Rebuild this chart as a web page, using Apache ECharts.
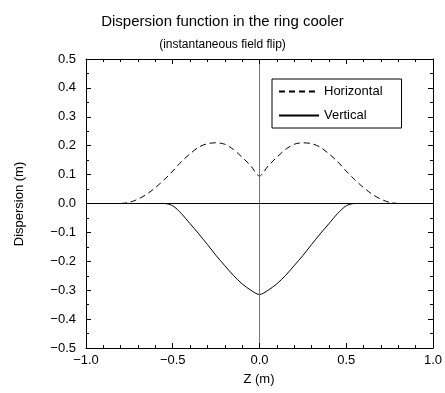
<!DOCTYPE html>
<html><head><meta charset="utf-8">
<script src="https://cdn.jsdelivr.net/npm/echarts@6/dist/echarts.min.js"></script>
<style>html,body{margin:0;padding:0;background:#fff}#c{width:445px;height:393px}</style>
</head><body><div id="c"></div>
<script>
const zValues = [-0.8,-0.75,-0.7,-0.65,-0.6,-0.55,-0.5,-0.45,-0.4,-0.35,-0.3,-0.25,-0.2,-0.15,-0.1,-0.05,0,
  0.05,0.1,0.15,0.2,0.25,0.3,0.35,0.4,0.45,0.5,0.55,0.6,0.65,0.7,0.75,0.8];
const horizontal = [0,0.004,0.015,0.032,0.055,0.082,0.112,0.145,0.172,0.195,0.207,0.21,0.205,0.187,0.16,0.13,0.095,
  0.13,0.16,0.187,0.205,0.21,0.207,0.195,0.172,0.145,0.112,0.082,0.055,0.032,0.015,0.004,0];
const vertical = [0,0,0,0,0,0,-0.008,-0.035,-0.07,-0.105,-0.142,-0.18,-0.215,-0.249,-0.278,-0.3,-0.315,
  -0.3,-0.278,-0.249,-0.215,-0.18,-0.142,-0.105,-0.07,-0.035,-0.008,0,0,0,0,0,0];
const titleText = 'Dispersion function in the ring cooler';
const subtitleText = '(instantaneous field flip)';
const xName = 'Z (m)';
const yName = 'Dispersion (m)';

const FONT = 'Liberation Sans, Arial, sans-serif';
const fmt = v => { const s = (Math.round(v*10)/10).toFixed(1); return s.replace('-', '\u2212'); };
const chart = echarts.init(document.getElementById('c'));
function xAx(pos, show) {
  return {
    type:'value', position:pos, min:-1, max:1, interval:0.5, z:10,
    axisLine:{show:true, onZero:false, lineStyle:{color:'#000'}},
    axisTick:{show:true, inside:true, length:5, lineStyle:{color:'#000'}},
    minorTick:{show:true, splitNumber:5, length:3, lineStyle:{color:'#000'}},
    splitLine:{show:false},
    axisLabel:{show:show, formatter:fmt, fontFamily:FONT, fontSize:13, color:'#000', margin:6}
  };
}
function yAx(pos, show) {
  return {
    type:'value', position:pos, min:-0.5, max:0.5, interval:0.1, z:10,
    axisLine:{show:true, onZero:false, lineStyle:{color:'#000'}},
    axisTick:{show:true, inside:true, length:5, lineStyle:{color:'#000'}},
    minorTick:{show:true, splitNumber:2, length:3, lineStyle:{color:'#000'}},
    splitLine:{show:false},
    axisLabel:{show:show, formatter:fmt, fontFamily:FONT, fontSize:13, color:'#000', margin:10}
  };
}
chart.setOption({
  animation:false,
  title:[
    {text:titleText, left:'center', top:9, textStyle:{fontFamily:FONT, fontSize:15, fontWeight:'normal', color:'#000'}},
    {text:subtitleText, left:'center', top:34, textStyle:{fontFamily:FONT, fontSize:12, fontWeight:'normal', color:'#000'}},
    {text:xName, left:259, textAlign:'center', top:373, textStyle:{fontFamily:FONT, fontSize:13, fontWeight:'normal', color:'#000'}, padding:0}
  ],
  graphic:[{type:'text', rotation:Math.PI/2, position:[19,204],
    style:{text:yName, font:'13px ' + FONT, fill:'#000', textAlign:'center', textVerticalAlign:'middle'}}],
  grid:{left:86, right:12, top:59, bottom:45},
  xAxis:[xAx('bottom', true), xAx('top', false)],
  yAxis:[yAx('left', true), yAx('right', false)],
  legend:{
    orient:'vertical', left:272, top:79, itemWidth:40, itemHeight:10, itemGap:11,
    borderColor:'#000', borderWidth:1, borderRadius:0, padding:[6,19,6,6],
    itemStyle:{opacity:0},
    textStyle:{fontFamily:FONT, fontSize:13, color:'#000'},
    data:['Horizontal','Vertical']
  },
  series:[
    {name:'Horizontal', type:'line', symbol:'none', showSymbol:false, smooth:0.3,
     data: zValues.map((z,i)=>[z, horizontal[i]]),
     lineStyle:{color:'#000', width:1, type:[6,4]}, itemStyle:{color:'#000'},
     markLine:{silent:true, symbol:'none', label:{show:false},
       data:[{xAxis:0, lineStyle:{color:'#777', width:1, type:'solid'}},
             {yAxis:0, lineStyle:{color:'#000', width:1, type:'solid'}}]}},
    {name:'Vertical', type:'line', symbol:'none', showSymbol:false, smooth:0.3,
     data: zValues.map((z,i)=>[z, vertical[i]]),
     lineStyle:{color:'#000', width:1, type:'solid'}, itemStyle:{color:'#000'}}
  ]
});
</script></body></html>
